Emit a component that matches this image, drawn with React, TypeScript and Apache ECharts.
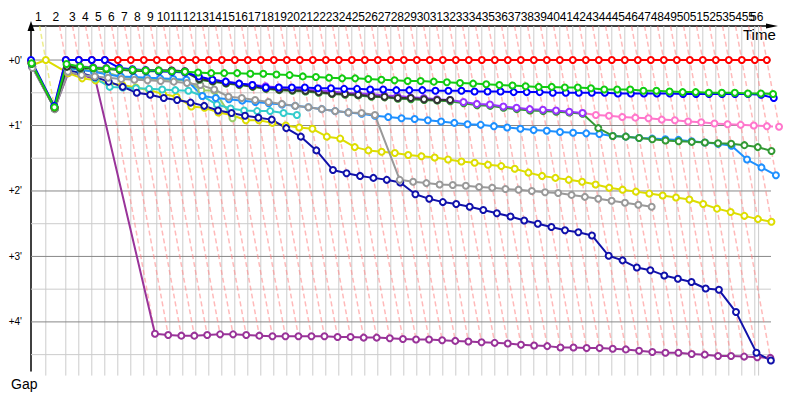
import React, { useEffect, useRef } from 'react';
import * as echarts from 'echarts';

// ---- data ----
const lapLabels = [
  '1', '2', '3', '4', '5', '6', '7', '8', '9', '10',
  '11', '12', '13', '14', '15', '16', '17', '18', '19', '20',
  '21', '22', '23', '24', '25', '26', '27', '28', '29', '30',
  '31', '32', '33', '34', '35', '36', '37', '38', '39', '40',
  '41', '42', '43', '44', '45', '46', '47', '48', '49', '50',
  '51', '52', '53', '54', '55', '56',
];

// leader lap times in seconds, laps 1..56
const lapTimes = [
  74, 100, 65, 65, 65, 65, 65, 65, 65, 65,
  65, 65, 65, 65, 65, 65, 65, 65, 65, 65,
  65, 65, 65, 65, 65, 65, 65, 65, 65, 65,
  65, 65, 65, 65, 65, 65, 65, 65, 65, 65,
  65, 65, 65, 65, 65, 65, 65, 65, 65, 65,
  65, 65, 65, 65, 65, 60,
];
const flagTime = 3638;

const gapTicks = [0, 1, 2, 3, 4];
const gapMinorLines = [0.5, 1.5, 2.5, 3.5, 4.5];

const n = null;
// gaps in minutes, index = lap 0..56
const redGaps = [
  0.03, 0.72, 0, 0, 0, 0, 0, 0, 0, 0,
  0, 0, 0, 0, 0, 0, 0, 0, 0, 0,
  0, 0, 0, 0, 0, 0, 0, 0, 0, 0,
  0, 0, 0, 0, 0, 0, 0, 0, 0, 0,
  0, 0, 0, 0, 0, 0, 0, 0, 0, 0,
  0, 0, 0, 0, 0, 0, 0,
];
const blueGaps = [
  0, 0.70, 0, 0, 0, 0, 0.12, 0.14, 0.16, 0.17,
  0.18, 0.19, 0.25, 0.30, 0.33, 0.36, 0.38, 0.42, 0.42, 0.42,
  0.42, 0.43, 0.43, 0.44, 0.44, 0.45, 0.45, 0.46, 0.46, 0.46,
  0.47, 0.47, 0.47, 0.48, 0.48, 0.48, 0.49, 0.49, 0.49, 0.50,
  0.50, 0.50, 0.50, 0.50, 0.51, 0.51, 0.51, 0.51, 0.51, 0.52,
  0.52, 0.52, 0.52, 0.52, 0.52, 0.53, 0.58,
];
const greenGaps = [
  0.05, 0.72, 0.06, 0.10, 0.12, 0.13, 0.14, 0.15, 0.16, 0.16,
  0.17, 0.18, 0.19, 0.20, 0.20, 0.20, 0.21, 0.21, 0.22, 0.23,
  0.25, 0.26, 0.27, 0.28, 0.28, 0.29, 0.30, 0.31, 0.32, 0.32,
  0.33, 0.34, 0.35, 0.36, 0.37, 0.38, 0.39, 0.40, 0.41, 0.41,
  0.42, 0.42, 0.43, 0.45, 0.45, 0.45, 0.47, 0.47, 0.48, 0.49,
  0.49, 0.50, 0.50, 0.50, 0.51, 0.51, 0.52,
];
const blackGaps = [
  0.05, 0.72, 0.10, 0.12, 0.12, 0.13, 0.15, 0.16, 0.16, 0.16,
  0.16, 0.17, 0.29, 0.32, 0.35, 0.37, 0.40, 0.43, 0.45, 0.46,
  0.47, 0.49, 0.51, 0.52, 0.53, 0.55, 0.56, 0.58, 0.58, 0.60,
  0.61, 0.61, n, n, n, n, n, n, n, n,
  n, n, n, n, n, n, n, n, n, n,
  n, n, n, n, n, n, n,
];
const darkGreenGaps = [
  0.06, 0.73, 0.10, 0.13, 0.13, 0.14, 0.15, 0.16, 0.17, 0.17,
  0.17, 0.18, 0.30, 0.33, 0.36, 0.38, 0.41, 0.44, 0.46, 0.47,
  0.48, 0.50, 0.52, 0.53, 0.54, 0.56, 0.57, 0.59, 0.60, 0.61,
  0.62, 0.63, 0.66, 0.69, 0.70, 0.73, 0.75, 0.77, 0.78, 0.79,
  0.80, 0.82, 1.04, 1.16, 1.17, 1.19, 1.21, 1.23, 1.24, 1.25,
  1.26, 1.27, 1.28, 1.30, 1.33, 1.39, n,
];
const violetGaps = [
  0.04, 0.72, 0.08, 0.10, 0.11, 0.12, 0.14, 0.15, 0.15, 0.16,
  0.16, 0.17, 0.27, 0.30, 0.33, 0.36, 0.38, 0.40, 0.42, 0.43,
  0.45, 0.46, 0.48, 0.50, 0.51, 0.52, 0.54, 0.55, 0.57, 0.58,
  0.60, 0.61, 0.64, 0.67, 0.68, 0.71, 0.73, 0.75, 0.76, 0.77,
  0.79, 0.81, n, n, n, n, n, n, n, n,
  n, n, n, n, n, n, n,
];
const pinkGaps = [
  n, n, n, n, n, n, n, n, n, n,
  n, n, n, n, n, n, n, n, n, n,
  n, n, n, n, n, n, n, n, n, n,
  n, n, n, n, n, n, n, n, n, n,
  n, 0.81, 0.84, 0.85, 0.87, 0.88, 0.89, 0.91, 0.92, 0.94,
  0.95, 0.97, 0.98, 0.99, 1.00, 1.01, 1.02,
];
const dodgerGaps = [
  0.06, 0.73, 0.12, 0.15, 0.18, 0.22, 0.25, 0.26, 0.27, 0.28,
  0.29, 0.30, 0.55, 0.58, 0.60, 0.62, 0.64, 0.66, 0.68, 0.70,
  0.72, 0.75, 0.78, 0.80, 0.82, 0.85, 0.87, 0.89, 0.90, 0.92,
  0.94, 0.96, 0.98, 0.99, 1.01, 1.03, 1.05, 1.07, 1.08, 1.10,
  1.11, 1.12, 1.13, 1.16, 1.17, 1.19, 1.20, 1.21, 1.22, 1.24,
  1.26, 1.28, 1.31, 1.52, 1.64, 1.76, n,
];
const greyGaps = [
  0.12, 0.75, 0.18, 0.23, 0.25, 0.27, 0.29, 0.30, 0.31, 0.32,
  0.33, 0.35, 0.38, 0.45, 0.56, 0.58, 0.61, 0.64, 0.67, 0.70,
  0.72, 0.75, 0.78, 0.80, 0.81, 0.84, 1.83, 1.86, 1.88, 1.90,
  1.91, 1.92, 1.94, 1.95, 1.97, 1.98, 2.00, 2.02, 2.03, 2.06,
  2.09, 2.12, 2.15, 2.18, 2.21, 2.24, n, n, n, n,
  n, n, n, n, n, n, n,
];
const yellowGaps = [
  0.08, 0, 0.20, 0.28, 0.31, 0.36, 0.38, 0.42, 0.46, 0.52,
  0.56, 0.71, 0.73, 0.80, 0.84, 0.92, 0.92, 0.96, 1.00, 1.03,
  1.05, 1.17, 1.20, 1.33, 1.38, 1.40, 1.42, 1.45, 1.47, 1.49,
  1.52, 1.55, 1.57, 1.60, 1.62, 1.66, 1.72, 1.77, 1.80, 1.83,
  1.86, 1.90, 1.95, 1.98, 2.01, 2.04, 2.07, 2.10, 2.13, 2.20,
  2.27, 2.32, 2.38, 2.43, 2.47, n, n,
];
const navyGaps = [
  0.10, 0.74, 0.16, 0.20, 0.26, 0.33, 0.41, 0.50, 0.53, 0.58,
  0.61, 0.65, 0.70, 0.77, 0.81, 0.85, 0.88, 0.91, 1.04, 1.17,
  1.38, 1.68, 1.73, 1.77, 1.80, 1.83, 1.87, 2.05, 2.12, 2.17,
  2.20, 2.24, 2.29, 2.34, 2.39, 2.45, 2.50, 2.55, 2.60, 2.63,
  2.68, 2.99, 3.06, 3.17, 3.21, 3.29, 3.34, 3.39, 3.49, 3.51,
  3.85, 4.47, 4.59, n, n, n, n,
];
const purpleGaps = [
  0.10, 0.74, 0.20, 0.22, 0.30, 4.18, 4.20, 4.21, 4.21, 4.20,
  4.19, 4.19, 4.20, 4.21, 4.22, 4.22, 4.22, 4.22, 4.22, 4.23,
  4.23, 4.24, 4.24, 4.25, 4.26, 4.27, 4.27, 4.28, 4.29, 4.30,
  4.31, 4.32, 4.33, 4.35, 4.36, 4.37, 4.39, 4.39, 4.40, 4.40,
  4.41, 4.42, 4.44, 4.46, 4.47, 4.47, 4.49, 4.50, 4.52, 4.52,
  4.53, 4.54, 4.55, n, n, n, n,
];
const cyanGaps = [
  0.08, 0.74, 0.15, 0.20, 0.28, 0.41, 0.42, 0.43, 0.44, 0.45,
  0.46, 0.47, 0.55, 0.68, 0.74, 0.77, 0.78, 0.78, 0.81, 0.84,
  n, n, n, n, n, n, n, n, n, n,
  n, n, n, n, n, n, n, n, n, n,
  n, n, n, n, n, n, n, n, n, n,
  n, n, n, n, n, n, n,
];
const yellowGreenGaps = [
  0.06, 0.75, 0.12, 0.15, 0.17, 0.19, 0.26, 0.28, 0.29, 0.30,
  0.30, 0.31, 0.46, 0.47, 0.89, n, n, n, n, n,
  n, n, n, n, n, n, n, n, n, n,
  n, n, n, n, n, n, n, n, n, n,
  n, n, n, n, n, n, n, n, n, n,
  n, n, n, n, n, n, n,
];

// drawing order: first = bottom
const drivers = [
  { name: 'purple', color: '#993399', gaps: purpleGaps },
  { name: 'yellow', color: '#dddd00', gaps: yellowGaps },
  { name: 'yellowgreen', color: '#99cc66', gaps: yellowGreenGaps },
  { name: 'cyan', color: '#33cccc', gaps: cyanGaps },
  { name: 'navy', color: '#1111aa', gaps: navyGaps },
  { name: 'dodger', color: '#1e90ff', gaps: dodgerGaps },
  { name: 'grey', color: '#999999', gaps: greyGaps },
  { name: 'pink', color: '#ff77cc', gaps: pinkGaps },
  { name: 'darkgreen', color: '#339933', gaps: darkGreenGaps },
  { name: 'violet', color: '#9933ff', gaps: violetGaps },
  { name: 'black', color: '#333333', gaps: blackGaps },
  { name: 'red', color: '#ff0000', gaps: redGaps },
  { name: 'blue', color: '#0000ff', gaps: blueGaps },
  { name: 'green', color: '#11cc11', gaps: greenGaps },
];

// ---- layout constants ----
const SEC_PER_MIN = 60;
const X_MAX = 3705;
const Y_MIN = -0.52;
const Y_MAX = 4.75;
const V_LINE_BOTTOM = 4.82;
const H_LINE_END = 3700;
const FONT = '"Liberation Sans", Arial, sans-serif';

function buildOption() {
  const cum: number[] = [0];
  lapTimes.forEach((t) => cum.push(cum[cum.length - 1] + t));

  const verticalTimes = cum.slice(1, 56).concat([flagTime]);
  const bounds = [0].concat(verticalTimes);
  const labelData: number[][] = lapLabels.map((_, i) => [(bounds[i] + bounds[i + 1]) / 2, Y_MIN]);

  const pinkData: number[][] = [];
  const yellowDash: number[][] = [];
  for (let k = 1; k < cum.length; k++) {
    let g = -Infinity;
    drivers.forEach((d) => {
      const v = d.gaps[k];
      if (v != null && v > g) g = v;
    });
    if (!isFinite(g)) continue;
    const seg = [cum[k] + Y_MIN * SEC_PER_MIN, Y_MIN, cum[k] + g * SEC_PER_MIN, g];
    if (k === 1) yellowDash.push(seg);
    else pinkData.push(seg);
  }

  const segRender = (stroke: string, lineWidth: number, dash?: number[]) =>
    (params: any, api: any) => {
      const p1 = api.coord([api.value(0), api.value(1)]);
      const p2 = api.coord([api.value(2), api.value(3)]);
      return {
        type: 'line',
        shape: { x1: p1[0], y1: p1[1], x2: p2[0], y2: p2[1] },
        style: { stroke, lineWidth, lineDash: dash, fill: null },
        silent: true,
      };
    };

  const segSeries = (data: number[][], stroke: string, lw: number, z: number, dash?: number[]) => ({
    type: 'custom',
    silent: true,
    clip: false,
    z,
    encode: { x: [0, 2], y: [1, 3] },
    data,
    renderItem: segRender(stroke, lw, dash),
  });

  const series: any[] = [
    segSeries(verticalTimes.map((t) => [t, Y_MIN, t, V_LINE_BOTTOM]), '#cccccc', 1, 1),
    segSeries(gapMinorLines.map((g) => [0, g, H_LINE_END, g]), '#cccccc', 1, 1),
    segSeries(gapTicks.map((g) => [0, g, H_LINE_END, g]), '#888888', 1, 1),
    segSeries(pinkData, 'rgba(255,130,130,0.55)', 1.5, 1, [5, 3]),
    segSeries(yellowDash, 'rgba(230,230,90,0.7)', 1.5, 1, [5, 3]),
    // lap number labels above the time axis
    {
      type: 'custom',
      silent: true,
      clip: false,
      z: 5,
      encode: { x: 0, y: 1 },
      data: labelData,
      renderItem: (params: any, api: any) => {
        const p = api.coord([api.value(0), api.value(1)]);
        return {
          type: 'text',
          x: p[0],
          y: p[1] - 3,
          silent: true,
          style: {
            text: lapLabels[params.dataIndex],
            fill: '#000',
            font: `12px ${FONT}`,
            textAlign: 'center',
            textVerticalAlign: 'bottom',
          },
        };
      },
    },
  ];

  drivers.forEach((d) => {
    const data: number[][] = [];
    d.gaps.forEach((g, k) => {
      if (g != null) data.push([cum[k] + g * SEC_PER_MIN, g]);
    });
    series.push({
      type: 'line',
      name: d.name,
      data,
      z: 3,
      clip: false,
      silent: true,
      symbol: 'emptyCircle',
      symbolSize: 6,
      showSymbol: true,
      lineStyle: { color: d.color, width: 2 },
      itemStyle: { color: d.color, borderWidth: 1.2 },
      emphasis: { disabled: true },
    });
  });

  return {
    animation: false,
    backgroundColor: '#ffffff',
    textStyle: { fontFamily: FONT },
    grid: { left: 31, top: 26, width: 741, height: 345, containLabel: false },
    xAxis: {
      type: 'value',
      position: 'top',
      min: 0,
      max: X_MAX,
      axisLine: {
        show: true,
        onZero: false,
        lineStyle: { color: '#000', width: 1.5 },
        symbol: ['none', 'triangle'],
        symbolSize: [5, 12],
      },
      axisTick: { show: false },
      splitLine: { show: false },
      axisLabel: { show: false },
    },
    yAxis: {
      type: 'value',
      inverse: true,
      min: Y_MIN,
      max: Y_MAX,
      axisLine: {
        show: true,
        onZero: false,
        lineStyle: { color: '#000', width: 1.5 },
        symbol: ['none', 'triangle'],
        symbolSize: [7, 10],
      },
      axisTick: { show: false },
      splitLine: { show: false },
      axisLabel: {
        customValues: gapTicks,
        formatter: (v: number) => `+${v}'`,
        margin: 9,
        color: '#000',
        fontSize: 10,
        fontFamily: FONT,
      },
    },
    graphic: [
      {
        type: 'text',
        left: 743,
        top: 27,
        style: { text: 'Time', font: `15px ${FONT}`, fill: '#000' },
      },
      {
        type: 'text',
        left: 11,
        top: 377,
        style: { text: 'Gap', font: `14px ${FONT}`, fill: '#000' },
      },
    ],
    series,
  };
}

export default function App() {
  const ref = useRef<HTMLDivElement>(null);
  useEffect(() => {
    if (!ref.current) return;
    const chart = echarts.init(ref.current, null, { renderer: 'svg' });
    chart.setOption(buildOption() as any);
    return () => chart.dispose();
  }, []);
  return (
    <div
      ref={ref}
      style={{ position: 'fixed', left: 0, top: 0, width: 800, height: 400, background: '#fff' }}
    />
  );
}
